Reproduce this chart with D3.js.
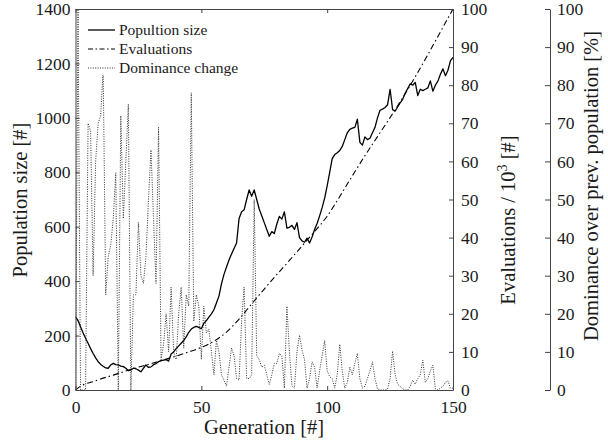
<!DOCTYPE html>
<html>
<head>
<meta charset="utf-8">
<script src="https://cdn.jsdelivr.net/npm/d3@7"></script>
<style>
  body { margin: 0; background: #fff; }
  svg { display: block; font-family: "Liberation Serif", "Times New Roman", serif; }
</style>
</head>
<body>
<svg id="chart" width="608" height="445"></svg>
<script>
// Population size per generation (generation = array index, 0..150)
const popSize = [
  270, 255, 232, 210, 190, 172, 152, 134, 118, 104,
  94, 87, 81, 80, 92, 98, 93, 92, 88, 86,
  80, 71, 74, 80, 78, 73, 67, 80, 92, 83,
  85, 93, 97, 104, 108, 110, 112, 106, 132, 140,
  152, 162, 172, 182, 195, 212, 224, 230, 234, 230,
  225, 245, 255, 268, 280, 295, 320, 345, 390, 425,
  452, 478, 500, 520, 540, 630, 655, 662, 700, 735,
  712, 735, 700, 665, 640, 615, 590, 565, 582, 575,
  610, 638, 628, 655, 595, 598, 605, 590, 615, 560,
  548, 543, 558, 540, 562, 590, 612, 640, 670, 705,
  750, 800, 850, 865, 872, 880, 895, 920, 945, 958,
  962, 965, 995, 910, 900, 930, 920, 925, 945, 965,
  1000, 1028, 1032, 1038, 1048, 1105, 1030, 1025, 1040, 1055,
  1068, 1090, 1108, 1125, 1120, 1130, 1082, 1105, 1100, 1105,
  1110, 1136, 1098, 1120, 1135, 1160, 1180, 1155, 1175, 1210,
  1222
];

// Cumulative evaluations (thousands), sampled generations
const evalGenerations = [0, 2, 4, 7, 10, 15, 20, 25, 30, 35, 40, 45, 50, 55, 60, 65, 70, 75,
  80, 85, 90, 95, 100, 105, 110, 115, 120, 125, 130, 135, 140, 145, 150];
const evaluations = [0, 1.0, 1.6, 2.2, 2.9, 3.9, 5.0, 6.0, 6.9, 7.9, 8.9, 10.0, 11.2, 12.8, 15.2, 18.6,
  22.6, 26.5, 30.3, 34.0, 37.8, 41.6, 45.6, 50.8, 56.2, 61.5, 66.5, 71.5, 76.7, 82.2, 88.0, 94.0, 100];

// Dominance over previous population [%] per generation
const dominance = [
  0, 100, 0, 0, 0, 70, 68, 30, 60, 70,
  72, 84, 25, 35, 38, 45, 57, 0, 72, 45,
  60, 75, 0, 25, 25, 44, 30, 28, 35, 50,
  63, 45, 28, 69, 8, 12, 20, 10, 27, 10,
  8, 20, 27, 11, 25, 22, 78, 18, 25, 22,
  8, 22, 15, 16, 10, 4, 13, 10, 4, 2.6,
  1, 6, 11, 9, 3, 2.6, 18, 27, 3, 3,
  4, 50, 9, 8, 6, 6.5, 4, 1.5, 4, 7,
  7, 9.6, 9, 0.5, 22, 10, 1, 0.5, 10, 14.4,
  10.5, 8, 0.5, 3, 7.4, 6, 0.5, 5, 9, 13,
  5, 3.5, 3, 0.5, 4, 12, 5, 0.5, 2, 6,
  4, 7, 9.6, 3, 0.5, 1, 3, 5, 7.4, 3,
  0.3, 0, 0, 0, 0.3, 3, 10.2, 4, 1.5, 1,
  0.3, 0, 0, 1, 2.6, 1.5, 3, 4, 7.8, 2,
  3, 5, 6.5, 0.3, 0, 0.5, 1, 2, 2.4, 0.5,
  0.5
];

const popTicks = [0, 200, 400, 600, 800, 1000, 1200, 1400];
const genTicks = [0, 50, 100, 150];
const pctTicks = [0, 10, 20, 30, 40, 50, 60, 70, 80, 90, 100];
const legendLabels = ["Popultion size", "Evaluations", "Dominance change"];

const svg = d3.select("#chart");
const plot = { left: 75.5, right: 453, top: 9, bottom: 390 };
const domAxisX = 550;
const axisColor = "#444";
const textColor = "#1a1a1a";
const tickFont = 17.5;

const x = d3.scaleLinear().domain([0, 150]).range([plot.left, plot.right]);
const yPop = d3.scaleLinear().domain([0, 1400]).range([plot.bottom, plot.top]);
const yEval = d3.scaleLinear().domain([0, 100]).range([plot.bottom, plot.top]);
const yDom = d3.scaleLinear().domain([0, 100]).range([plot.bottom, plot.top]);

svg.append("clipPath").attr("id", "plotClip")
  .append("rect")
  .attr("x", plot.left).attr("y", plot.top)
  .attr("width", plot.right - plot.left).attr("height", plot.bottom - plot.top);

const lines = svg.append("g").attr("clip-path", "url(#plotClip)");

// Dominance change (dotted)
lines.append("path")
  .datum(dominance)
  .attr("fill", "none")
  .attr("stroke", "#333")
  .attr("stroke-width", 1)
  .attr("stroke-dasharray", "1,1.4")
  .attr("d", d3.line().x((d, i) => x(i)).y(d => yDom(d)));

// Evaluations (dash-dot)
lines.append("path")
  .datum(evaluations)
  .attr("fill", "none")
  .attr("stroke", "#000")
  .attr("stroke-width", 1.1)
  .attr("stroke-dasharray", "6,3,1.5,3")
  .attr("d", d3.line().curve(d3.curveMonotoneX)
    .x((d, i) => x(evalGenerations[i])).y(d => yEval(d)));

// Population size (solid)
lines.append("path")
  .datum(popSize)
  .attr("fill", "none")
  .attr("stroke", "#000")
  .attr("stroke-width", 1.3)
  .attr("stroke-linejoin", "round")
  .attr("d", d3.line().x((d, i) => x(i)).y(d => yPop(d)));

// Legend
const legend = svg.append("g");
legend.append("rect")
  .attr("x", 84).attr("y", 18).attr("width", 170).attr("height", 57)
  .attr("fill", "#fff");
const legendStyles = [
  { dash: null, width: 1.3, color: "#000" },
  { dash: "5,2.5,1.5,2.5", width: 1.1, color: "#000" },
  { dash: "1,1.4", width: 1, color: "#333" }
];
legendLabels.forEach((label, i) => {
  const yy = 30 + i * 19;
  legend.append("line")
    .attr("x1", 88).attr("x2", 115).attr("y1", yy).attr("y2", yy)
    .attr("stroke", legendStyles[i].color)
    .attr("stroke-width", legendStyles[i].width)
    .attr("stroke-dasharray", legendStyles[i].dash);
  legend.append("text")
    .attr("x", 119).attr("y", yy + 5)
    .attr("font-size", 15.5).attr("fill", textColor)
    .text(label);
});

function styleAxis(g) {
  g.select(".domain").attr("stroke", axisColor).attr("stroke-width", 1);
  g.selectAll(".tick line").attr("stroke", axisColor);
  g.selectAll(".tick text").attr("fill", textColor).attr("font-size", tickFont)
    .attr("font-family", "Liberation Serif, Times New Roman, serif");
}

// Left axis: population size
svg.append("g")
  .attr("transform", `translate(${plot.left},0)`)
  .call(d3.axisLeft(yPop).tickValues(popTicks).tickFormat(d3.format("d"))
    .tickSize(-4).tickSizeOuter(0).tickPadding(5))
  .call(styleAxis);

// Bottom axis: generation
svg.append("g")
  .attr("transform", `translate(0,${plot.bottom})`)
  .call(d3.axisBottom(x).tickValues(genTicks).tickFormat(d3.format("d"))
    .tickSize(-4).tickSizeOuter(0).tickPadding(11))
  .call(styleAxis);

// Top frame
svg.append("g")
  .attr("transform", `translate(0,${plot.top})`)
  .call(d3.axisTop(x).tickValues(genTicks).tickFormat("")
    .tickSize(-4).tickSizeOuter(0))
  .call(styleAxis);

// Right frame axis: evaluations
svg.append("g")
  .attr("transform", `translate(${plot.right},0)`)
  .call(d3.axisRight(yEval).tickValues(pctTicks).tickFormat(d3.format("d"))
    .tickSize(-4).tickSizeOuter(0).tickPadding(8))
  .call(styleAxis);

// Outer axis: dominance
svg.append("g")
  .attr("transform", `translate(${domAxisX},0)`)
  .call(d3.axisRight(yDom).tickValues(pctTicks).tickFormat(d3.format("d"))
    .tickSize(-5).tickSizeOuter(0).tickPadding(7))
  .call(styleAxis);

// Axis titles
const titleFont = 20.5;
svg.append("text")
  .attr("transform", "translate(27,200) rotate(-90)")
  .attr("text-anchor", "middle").attr("font-size", titleFont).attr("fill", textColor)
  .text("Population size [#]");

svg.append("text")
  .attr("x", 264).attr("y", 434)
  .attr("text-anchor", "middle").attr("font-size", titleFont).attr("fill", textColor)
  .text("Generation [#]");

const evalTitle = svg.append("text")
  .attr("transform", "translate(515,220) rotate(-90)")
  .attr("text-anchor", "middle").attr("font-size", titleFont).attr("fill", textColor);
evalTitle.append("tspan").text("Evaluations / 10");
evalTitle.append("tspan").attr("font-size", 14).attr("dy", -8).text("3");
evalTitle.append("tspan").attr("dy", 8).text(" [#]");

svg.append("text")
  .attr("transform", "translate(598,186) rotate(-90)")
  .attr("text-anchor", "middle").attr("font-size", titleFont).attr("fill", textColor)
  .text("Dominance over prev. population [%]");
</script>
</body>
</html>
